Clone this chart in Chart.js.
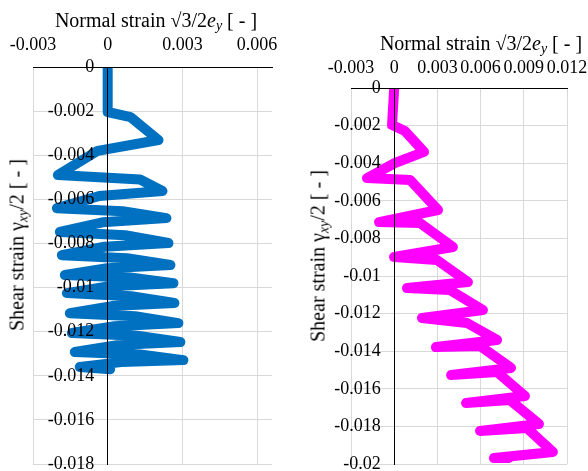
<!DOCTYPE html>
<html>
<head>
<meta charset="utf-8">
<script src="https://cdn.jsdelivr.net/npm/chart.js@4.4.1/dist/chart.umd.min.js"></script>
<style>
  html, body { margin: 0; padding: 0; background: #fff; }
  #wrap { position: relative; width: 588px; height: 471px; overflow: hidden;
          font-family: 'Liberation Serif', 'Times New Roman', serif; color: #000; }
  .panel { position: absolute; top: 0; width: 294px; height: 471px; }
  .title { position: absolute; font-size: 20px; white-space: nowrap; transform: translate(-50%, -50%); }
  .ytitle { transform: translate(-50%, -50%) rotate(-90deg); }
  sub { font-size: 0.7em; vertical-align: -0.25em; line-height: 0; }
</style>
</head>
<body>
<div id="wrap">
  <div class="panel" style="left:0"><canvas id="strainLeft" width="294" height="471"></canvas></div>
  <div class="panel" style="left:294px"><canvas id="strainRight" width="294" height="471"></canvas></div>
  <div class="title" style="left:156px;top:20px">Normal strain √3/2<i>e<sub>y</sub></i> [ - ]</div>
  <div class="title" style="left:481px;top:43px">Normal strain √3/2<i>e<sub>y</sub></i> [ - ]</div>
  <div class="title ytitle" style="left:17px;top:245px">Shear strain γ<sub><i>xy</i></sub>/2 [ - ]</div>
  <div class="title ytitle" style="left:318px;top:256px">Shear strain γ<sub><i>xy</i></sub>/2 [ - ]</div>
</div>
<script>
// strain paths (turning points of each cycle plus a bend point per swing)
const leftNormal = [0, 0, 0.00092, 0.00204, -0.0004, -0.0020, 0.0013, 0.0022, -0.00034, -0.00204,
  0.0006, 0.00236, -0.00021, -0.00192, 0.0007, 0.00244, -0.00013, -0.00184, 0.00078, 0.00252,
  -0.00002, -0.00172, 0.0009, 0.00264, 0.00007, -0.00164, 0.00095, 0.00268, 0.00016, -0.00152,
  0.0011, 0.00284, 0.00027, -0.00144, 0.00118, 0.00292, 0.00038, -0.00132, 0.0013, 0.00304,
  0.00054, -0.00112, 0.0001];
const leftShear = [0, -0.00204, -0.00227, -0.00331, -0.0038, -0.0049, -0.0051, -0.00562, -0.00585, -0.0064,
  -0.00654, -0.00685, -0.00704, -0.00748, -0.00763, -0.00798, -0.00815, -0.00853, -0.00867, -0.00898,
  -0.00912, -0.00943, -0.00954, -0.0098, -0.00994, -0.01025, -0.01039, -0.0107, -0.01084, -0.01116,
  -0.0113, -0.01161, -0.01175, -0.01206, -0.01218, -0.01247, -0.01261, -0.01292, -0.01303, -0.01329,
  -0.01338, -0.0136, -0.0137];

const rightNormal = [0, -0.00015, 0.00075, 0.00207, 0.00005, -0.00189, 0.0011, 0.00304, -0.00105, 0.00179,
  0.00408, -0.00001, 0.00297, 0.00512, 0.00089, 0.00387, 0.00616, 0.00193, 0.00506, 0.00714,
  0.0029, 0.00596, 0.00811, 0.00395, 0.00714, 0.00908, 0.00499, 0.00804, 0.01005, 0.00596,
  0.00922, 0.01102, 0.00693, 0.00797];
const rightShear = [0, -0.00197, -0.00229, -0.0034, -0.00399, -0.00479, -0.00489, -0.00649, -0.00713, -0.00718,
  -0.00846, -0.00899, -0.00915, -0.01032, -0.01064, -0.01074, -0.01181, -0.01223, -0.0125, -0.0134,
  -0.01378, -0.01372, -0.01489, -0.01527, -0.01511, -0.01638, -0.01676, -0.0166, -0.01787, -0.01824,
  -0.01809, -0.01936, -0.01968, -0.01968];

const leftXTicks = [-0.003, 0, 0.003, 0.006];
const leftYTicks = [0, -0.002, -0.004, -0.006, -0.008, -0.01, -0.012, -0.014, -0.016, -0.018];
const rightXTicks = [-0.003, 0, 0.003, 0.006, 0.009, 0.012];
const rightYTicks = [0, -0.002, -0.004, -0.006, -0.008, -0.01, -0.012, -0.014, -0.016, -0.018, -0.02];

const tickFont = { family: "'Liberation Serif', 'Times New Roman', serif", size: 18 };
const gridGrey = '#d9d9d9';
const fmt = (v) => String(+v.toFixed(4));
// labels sit left of the x = 0 axis line, so keep a gap with trailing spaces
const fmtY = (v) => fmt(v) + '\u2002 ';

function renderStrainChart(canvasId, xs, ys, cfg) {
  const ctx = document.getElementById(canvasId).getContext('2d');
  return new Chart(ctx, {
    type: 'scatter',
    data: {
      datasets: [{
        data: xs.map((x, i) => ({ x: x, y: ys[i] })),
        showLine: true,
        borderColor: cfg.color,
        backgroundColor: cfg.color,
        borderWidth: 10,
        borderCapStyle: 'round',
        borderJoinStyle: 'round',
        pointRadius: 0,
        tension: 0
      }]
    },
    options: {
      responsive: false,
      animation: false,
      layout: { padding: cfg.padding },
      plugins: { legend: { display: false }, tooltip: { enabled: false } },
      scales: {
        x: {
          type: 'linear',
          position: 'top',
          min: cfg.xMin,
          max: cfg.xMax,
          afterBuildTicks: (s) => { s.ticks = cfg.xTicks.map(v => ({ value: v })); },
          afterFit: (s) => { s.height = 40; s.paddingLeft = 0; s.paddingRight = 0; },
          grid: {
            color: (c) => (c.tick && c.tick.value === 0) ? 'rgba(0,0,0,0)' : gridGrey,
            drawTicks: false
          },
          border: { display: true, color: '#000', width: 1, z: 1 },
          ticks: { font: tickFont, color: '#000', padding: cfg.xPad, callback: fmt,
                   maxRotation: 0, autoSkip: false }
        },
        y: {
          type: 'linear',
          position: { x: 0 },
          min: cfg.yMin,
          max: 0,
          afterBuildTicks: (s) => { s.ticks = cfg.yTicks.map(v => ({ value: v })); },
          afterFit: (s) => { s.paddingTop = 0; s.paddingBottom = 0; },
          grid: {
            color: (c) => (c.tick && c.tick.value === 0) ? 'rgba(0,0,0,0)' : gridGrey,
            drawTicks: false
          },
          border: { display: true, color: '#000', width: 1, z: 1 },
          ticks: { font: tickFont, color: '#000', padding: 0, callback: fmtY,
                   autoSkip: false, z: 1 }
        }
      }
    }
  });
}

renderStrainChart('strainLeft', leftNormal, leftShear, {
  color: '#0070C0', xMin: -0.003, xMax: 0.0066, xTicks: leftXTicks,
  yMin: -0.018, yTicks: leftYTicks, xPad: 11,
  padding: { left: 33, right: 22, top: 27, bottom: 7 }
});
renderStrainChart('strainRight', rightNormal, rightShear, {
  color: '#FF00FF', xMin: -0.003, xMax: 0.012, xTicks: rightXTicks,
  yMin: -0.02, yTicks: rightYTicks, xPad: 9,
  padding: { left: 57, right: 21, top: 48, bottom: 7 }
});
</script>
</body>
</html>
